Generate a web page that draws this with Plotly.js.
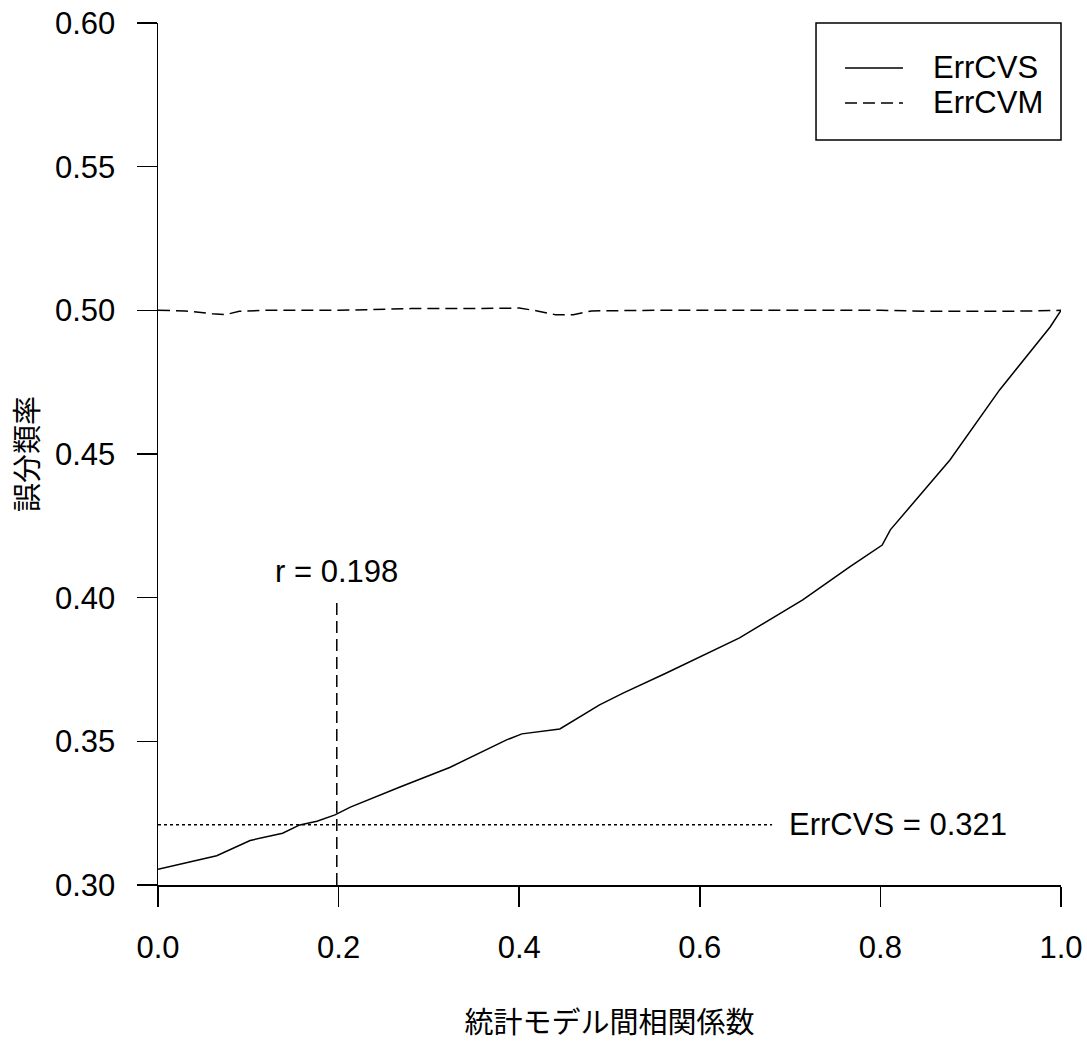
<!DOCTYPE html>
<html>
<head>
<meta charset="utf-8">
<script src="https://cdn.plot.ly/plotly-3.0.1.min.js"></script>
<style>html,body{margin:0;padding:0;background:#fff;}#chart{width:1087px;height:1041px;}</style>
</head>
<body>
<div id="chart"></div>
<script>
// ErrCVS (solid)
const cvsX = [0, 0.065, 0.102, 0.138, 0.157, 0.176, 0.196, 0.213, 0.268, 0.323, 0.386, 0.403, 0.445, 0.489, 0.515, 0.563, 0.644, 0.714, 0.766, 0.802, 0.811, 0.877, 0.932, 0.988, 1.0];
const cvsY = [0.3055, 0.3102, 0.3155, 0.318, 0.3209, 0.3222, 0.3244, 0.3271, 0.3341, 0.3409, 0.3505, 0.3526, 0.3543, 0.3627, 0.3668, 0.3738, 0.3860, 0.3992, 0.4107, 0.4183, 0.4236, 0.4479, 0.4723, 0.4942, 0.5];
// ErrCVM (dashed)
const cvmX = [0, 0.03, 0.06, 0.075, 0.09, 0.12, 0.2, 0.28, 0.35, 0.4, 0.42, 0.44, 0.46, 0.48, 0.55, 0.7, 0.8, 0.85, 0.95, 1.0];
const cvmY = [0.5, 0.4998, 0.4988, 0.4985, 0.4997, 0.5, 0.5, 0.5006, 0.5006, 0.5008, 0.4998, 0.4985, 0.4985, 0.4998, 0.5, 0.5, 0.5, 0.4997, 0.4997, 0.5];
// reference markers
const rLineX = [0.198, 0.198];
const rLineY = [0.30, 0.40];
const errLineX = [0, 0.68];
const errLineY = [0.321, 0.321];
const rLabel = "r = 0.198";
const errLabel = "ErrCVS = 0.321";
const seriesNames = ["ErrCVS", "ErrCVM"];
const xTitle = "統計モデル間相関係数";
const yTitle = "誤分類率";

const font = '"Liberation Sans", Arial, sans-serif';
const cjk = '"Noto Sans CJK JP", sans-serif';
const fs = 31;
const DASH = '12px,6px';

const traces = [
  {x: cvsX, y: cvsY, mode: 'lines', name: seriesNames[0], showlegend: false, line: {color: '#000', width: 1.5}},
  {x: cvmX, y: cvmY, mode: 'lines', name: seriesNames[1], showlegend: false, line: {color: '#000', width: 1.5, dash: DASH}},
  {x: rLineX, y: rLineY, mode: 'lines', showlegend: false, hoverinfo: 'skip', line: {color: '#000', width: 1.5, dash: DASH}},
  {x: errLineX, y: errLineY, mode: 'lines', showlegend: false, hoverinfo: 'skip', line: {color: '#000', width: 1.5, dash: '3px,3px'}}
];

// legend (R-style box, drawn in paper coordinates)
const lgBox = {x0: 0.7287, x1: 1.0, y0: 0.8643, y1: 1.0};
const lgSample = [0.7608, 0.8250];
const lgRows = [0.9478, 0.9072];
const lgTextX = 0.856;
const shapes = [
  {type: 'rect', xref: 'paper', yref: 'paper', x0: lgBox.x0, x1: lgBox.x1, y0: lgBox.y0, y1: lgBox.y1, line: {color: '#000', width: 1.5}, fillcolor: 'rgba(0,0,0,0)'},
  {type: 'line', xref: 'paper', yref: 'paper', x0: lgSample[0], x1: lgSample[1], y0: lgRows[0], y1: lgRows[0], line: {color: '#000', width: 1.5}},
  {type: 'line', xref: 'paper', yref: 'paper', x0: lgSample[0], x1: lgSample[1], y0: lgRows[1], y1: lgRows[1], line: {color: '#000', width: 1.5, dash: DASH}}
];

const layout = {
  width: 1087, height: 1041,
  margin: {l: 158, r: 26, t: 23, b: 156},
  paper_bgcolor: '#fff', plot_bgcolor: '#fff',
  font: {family: font, size: fs, color: '#000'},
  showlegend: false,
  xaxis: {
    range: [0, 1], dtick: 0.2, tick0: 0, tickformat: '.1f',
    showgrid: false, zeroline: false, showline: true, linecolor: '#000', linewidth: 1.5,
    ticks: 'outside', ticklen: 20, tickwidth: 1.5, tickcolor: '#000',
    ticklabelstandoff: 14,
    tickfont: {family: font, size: fs, color: '#000'},
    title: {text: xTitle, font: {family: cjk, size: 29, color: '#000'}, standoff: 56}
  },
  yaxis: {
    range: [0.30, 0.60], dtick: 0.05, tick0: 0.30, tickformat: '.2f',
    showgrid: false, zeroline: false, showline: true, linecolor: '#000', linewidth: 1.5,
    ticks: 'outside', ticklen: 20, tickwidth: 1.5, tickcolor: '#000',
    ticklabelstandoff: 15,
    tickfont: {family: font, size: fs, color: '#000'},
    title: {text: yTitle, font: {family: cjk, size: 29, color: '#000'}, standoff: 8}
  },
  shapes: shapes,
  annotations: [
    {x: rLineX[0], y: 0.409, xref: 'x', yref: 'y', text: rLabel, showarrow: false, xanchor: 'center', yanchor: 'middle', font: {family: font, size: fs, color: '#000'}},
    {x: 0.82, y: errLineY[0], xref: 'x', yref: 'y', text: errLabel, showarrow: false, xanchor: 'center', yanchor: 'middle', font: {family: font, size: fs, color: '#000'}},
    {x: lgTextX, y: lgRows[0], xref: 'paper', yref: 'paper', text: seriesNames[0], showarrow: false, xanchor: 'left', yanchor: 'middle', font: {family: font, size: fs, color: '#000'}},
    {x: lgTextX, y: lgRows[1], xref: 'paper', yref: 'paper', text: seriesNames[1], showarrow: false, xanchor: 'left', yanchor: 'middle', font: {family: font, size: fs, color: '#000'}}
  ]
};

Plotly.newPlot('chart', traces, layout, {displayModeBar: false, staticPlot: true});
</script>
</body>
</html>
